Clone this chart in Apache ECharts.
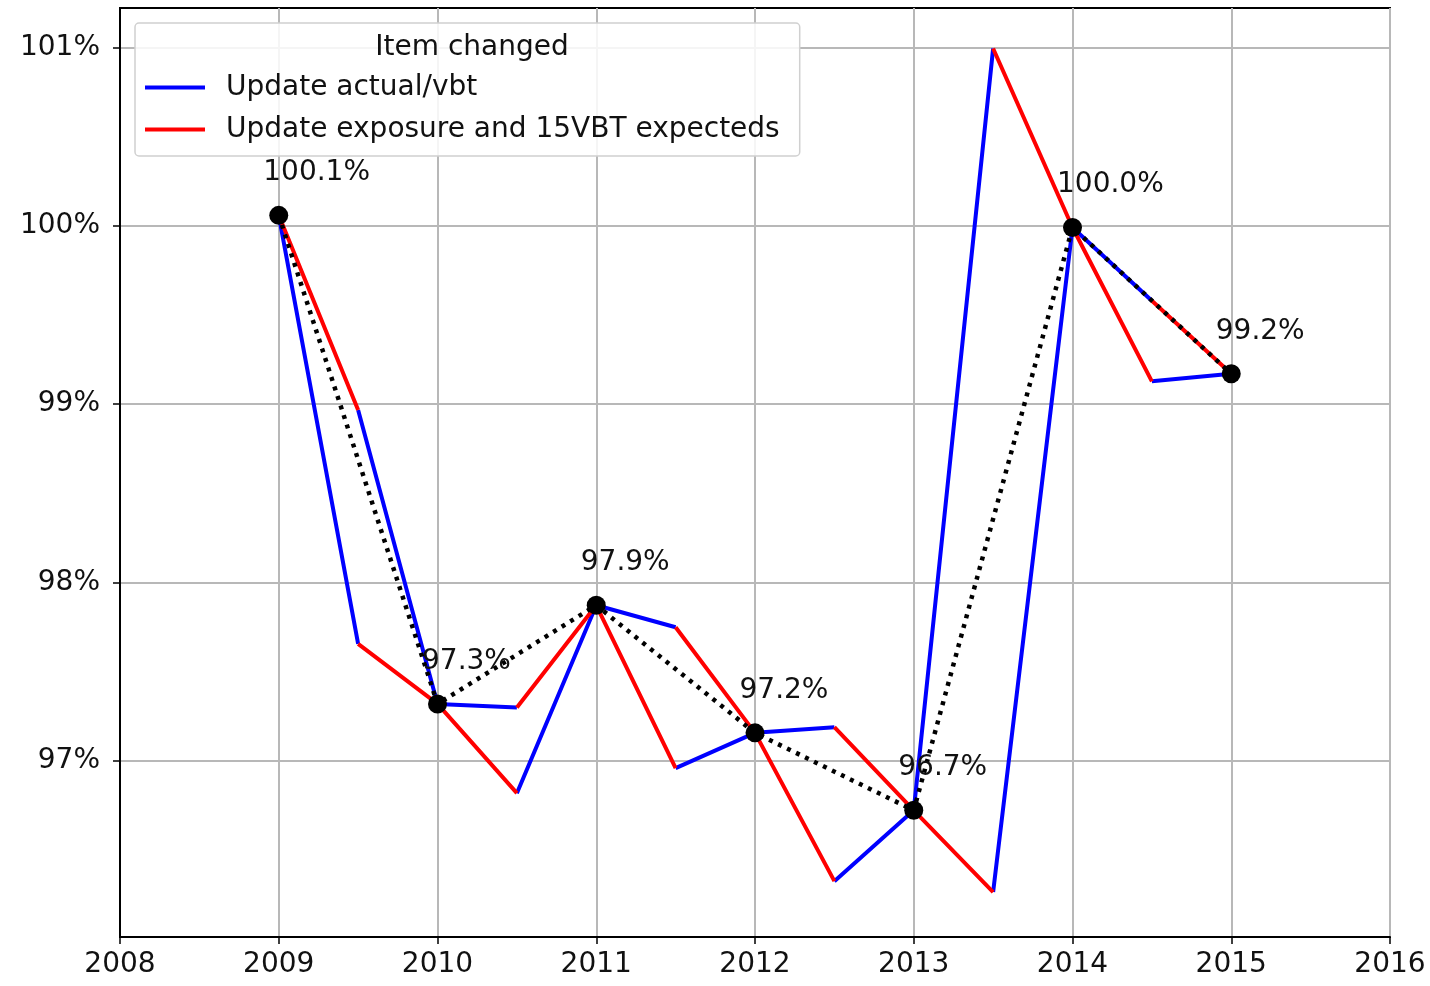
<!DOCTYPE html>
<html>
<head>
<meta charset="utf-8">
<script src="https://cdn.jsdelivr.net/npm/echarts@6/dist/echarts.min.js"></script>
<style>
  html, body { margin: 0; padding: 0; background: #fff; }
  #chart { width: 1430px; height: 986px; }
</style>
</head>
<body>
<div id="chart"></div>
<script>
// year-end totals (%)
const years = [2009, 2010, 2011, 2012, 2013, 2014, 2015];
const totals = [100.058, 97.32, 97.873, 97.158, 96.724, 99.99, 99.17];
// level half-way between years when actual/vbt is updated first
const actualFirstMid = [97.657, 97.30, 97.75, 97.19, 100.993, 99.58];
// level half-way between years when exposure is updated first
const exposureFirstMid = [98.967, 96.82, 96.96, 96.327, 96.266, 99.128];
const yTicks = [97, 98, 99, 100, 101];

const FONT = 'DejaVu Sans';
const FS = 28;

// blue pieces: year -> mid on the actual-first path, mid -> next year on the exposure-first path
const blueData = [];
const redData = [];
for (let i = 0; i < years.length - 1; i++) {
	const x0 = years[i], xm = years[i] + 0.5, x1 = years[i + 1];
	blueData.push([x0, totals[i]], [xm, actualFirstMid[i]], [xm, '-']);
	blueData.push([xm, exposureFirstMid[i]], [x1, totals[i + 1]], [x1, '-']);
	redData.push([x0, totals[i]], [xm, exposureFirstMid[i]], [xm, '-']);
	redData.push([xm, actualFirstMid[i]], [x1, totals[i + 1]], [x1, '-']);
}

const chart = echarts.init(document.getElementById('chart'));
chart.setOption({
	animation: false,
	textStyle: { fontFamily: FONT },
	title: {
		text: 'Item changed',
		left: 467,
		top: 29,
		textAlign: 'center',
		z: 20,
		textStyle: { fontFamily: FONT, fontSize: FS, fontWeight: 'normal', color: '#111' }
	},
	legend: {
		orient: 'vertical',
		left: 135,
		top: 23,
		padding: [48, 20, 10, 10],
		itemGap: 9,
		itemWidth: 60,
		itemHeight: 4,
		icon: 'rect',
		backgroundColor: 'rgba(255,255,255,0.85)',
		borderColor: '#d0d0d0',
		borderWidth: 1.5,
		borderRadius: 4,
		z: 10,
		textStyle: { fontFamily: FONT, fontSize: FS, color: '#111', lineHeight: 33, padding: [0, 0, 0, 16] },
		data: ['Update actual/vbt', 'Update exposure and 15VBT expecteds']
	},
	grid: {
		left: 120, right: 40, top: 8, bottom: 49,
		show: true, borderColor: '#000', borderWidth: 2
	},
	xAxis: {
		type: 'value',
		min: 2008, max: 2016, interval: 1,
		axisLine: { lineStyle: { color: '#000', width: 2 } },
		axisTick: { show: true, inside: false, length: 7, lineStyle: { color: '#000', width: 1.5 } },
		axisLabel: { margin: 14, fontFamily: FONT, fontSize: FS, color: '#111', formatter: v => String(v) },
		splitLine: { show: true, lineStyle: { color: '#b8b8b8', width: 2 } }
	},
	yAxis: {
		type: 'value',
		min: 96.014, max: 101.22,
		axisLine: { show: true, lineStyle: { color: '#000', width: 2 } },
		axisTick: { show: true, inside: false, length: 7, customValues: yTicks, lineStyle: { color: '#000', width: 1.5 } },
		axisLabel: { margin: 20, fontFamily: FONT, fontSize: FS, color: '#111', customValues: yTicks, formatter: v => Math.round(v) + '%' },
		splitLine: { show: true, lineStyle: { color: '#b8b8b8', width: 2 } }
	},
	series: [
		{
			name: 'Update actual/vbt',
			type: 'line',
			data: blueData,
			connectNulls: false,
			symbol: 'none',
			color: '#0000ff',
			lineStyle: { color: '#0000ff', width: 4 },
			z: 2
		},
		{
			name: 'Update exposure and 15VBT expecteds',
			type: 'line',
			data: redData,
			connectNulls: false,
			symbol: 'none',
			color: '#ff0000',
			lineStyle: { color: '#ff0000', width: 4 },
			z: 2
		},
		{
			name: 'total',
			type: 'line',
			data: years.map((y, i) => [y, totals[i]]),
			symbol: 'circle',
			symbolSize: 19,
			itemStyle: { color: '#000' },
			lineStyle: { color: '#000', width: 4.5, type: [4, 6], cap: 'butt' },
			label: {
				show: true,
				position: [-6, -33],
				align: 'left',
				verticalAlign: 'middle',
				fontFamily: FONT,
				fontSize: FS,
				color: '#111',
				formatter: p => p.value[1].toFixed(1) + '%'
			},
			z: 5
		}
	]
});
</script>
</body>
</html>
